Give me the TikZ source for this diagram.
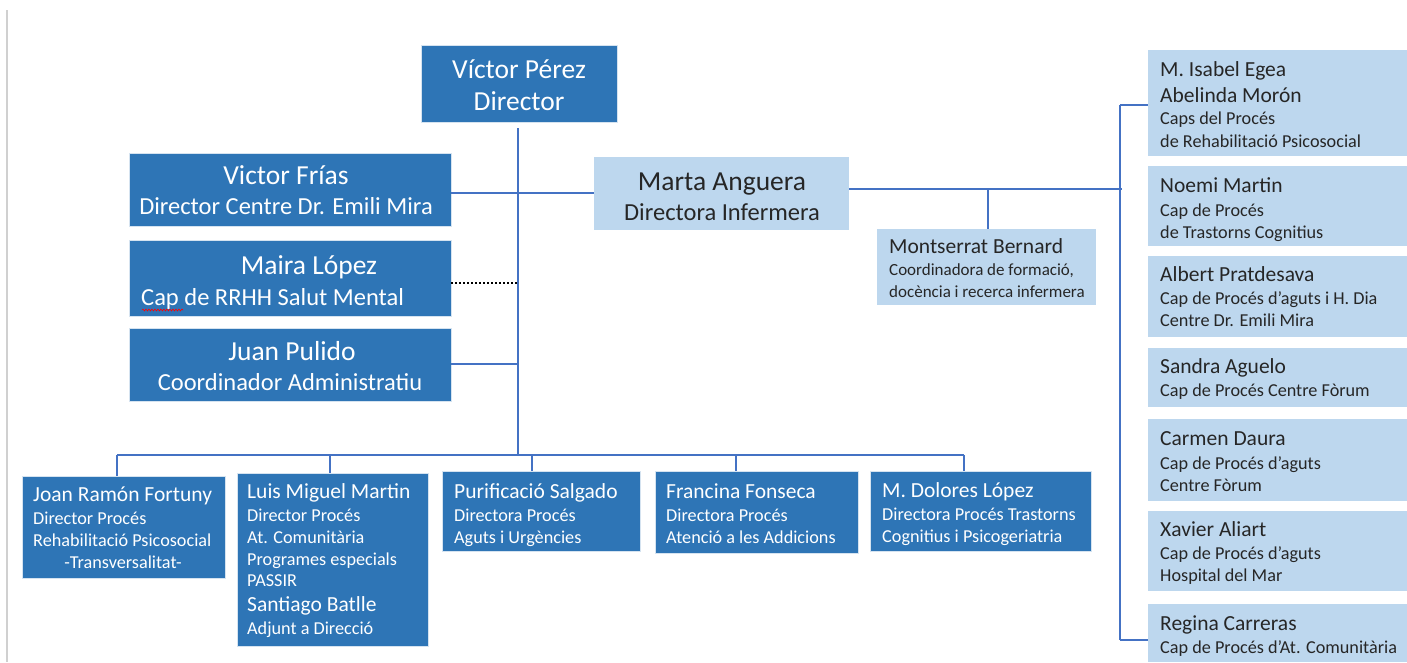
\documentclass[tikz,border=0pt]{standalone}
\usepackage{fontspec}
\setmainfont{Carlito}
\usetikzlibrary{decorations.pathmorphing}
\definecolor{dblue}{HTML}{2E75B6}
\definecolor{lblue}{HTML}{BDD7EE}
\definecolor{lineblue}{HTML}{4472C4}
\definecolor{bordgray}{HTML}{D0D0D0}
\newcommand\mybox[6]{\node[#6, minimum width={#4-#2}, minimum height={#5-#3}] (#1) at (#2,#3) {};}
\newcommand\txtl[5]{\node[#1, anchor=#2] (#3) at (#4) {#5};}
\tikzset{
  boxbase/.style={inner sep=0pt, outer sep=0pt, anchor=north west},
  dbox/.style={boxbase, fill=dblue, draw=white!80!dblue, line width=0.7pt},
  lbox/.style={boxbase, fill=lblue},
  conn/.style={draw=lineblue, line width=1.1pt},
  dotconn/.style={draw=black, line width=2pt, dash pattern=on 2pt off 2pt},
  wt/.style={text=white, inner sep=0pt},
  bt/.style={text=black!85, inner sep=0pt},
  fbig/.style={font=\fontsize{27.5}{30}\selectfont},
  fmid/.style={font=\fontsize{24.5}{27}\selectfont},
  fname/.style={font=\fontsize{21.5}{24}\selectfont},
  fsmall/.style={font=\fontsize{18.2}{20}\selectfont},
  ftiny/.style={font=\fontsize{17}{19}\selectfont},
}
\begin{document}
\begin{tikzpicture}[x=1pt,y=-1pt]
\useasboundingbox[fill=white] (0,0) rectangle (1407,662);
\draw[bordgray, line width=2pt] (7,10) coordinate (gl1) -- (7,662) coordinate (gl2);
% ---- boxes ----
\mybox{vp}{421}{45}{617}{122}{dbox}
\mybox{vf}{129}{153}{451}{226}{dbox}
\mybox{ml}{129}{240}{451}{316}{dbox}
\mybox{jp}{129}{328}{451}{401}{dbox}
\mybox{ma}{594}{157}{849}{230}{lbox}
\mybox{mb}{877}{229}{1096}{305}{lbox}
\mybox{r1}{1148}{50}{1407}{156}{lbox}
\mybox{r2}{1148}{166}{1407}{246}{lbox}
\mybox{r3}{1148}{256}{1407}{337}{lbox}
\mybox{r4}{1148}{348}{1407}{407}{lbox}
\mybox{r5}{1148}{419}{1407}{501}{lbox}
\mybox{r6}{1148}{511}{1407}{591}{lbox}
\mybox{r7}{1148}{604}{1407}{662}{lbox}
\mybox{b1}{22}{476}{225}{578}{dbox}
\mybox{b2}{237}{473}{428}{646}{dbox}
\mybox{b3}{442}{471}{640}{551}{dbox}
\mybox{b4}{655}{471}{858}{553}{dbox}
\mybox{b5}{870}{471}{1091}{551}{dbox}
% ---- connectors ----
\coordinate (vtop) at (518,128);
\coordinate (vbot) at (518,455);
\draw[conn] (vtop) -- (vbot);
\draw[conn] (vf.east |- 0,193) -- (ma.west |- 0,193);
\draw[dotconn] (ml.east |- 0,283) -- (518,283) coordinate (dotend);
\draw[conn] (jp.east |- 0,364) -- (518,364) coordinate (jpend);
\coordinate (hl) at (117,455);
\coordinate (hr) at (964,455);
\draw[conn] (hl) -- (hr);
\draw[conn] (hl) -- (b1.north -| hl);
\draw[conn] (330,455) coordinate (d2) -- (b2.north -| d2);
\draw[conn] (532,455) coordinate (d3) -- (b3.north -| d3);
\draw[conn] (736,455) coordinate (d4) -- (b4.north -| d4);
\draw[conn] (hr) -- (b5.north -| hr);
\coordinate (rtop) at (1120,105);
\coordinate (rbot) at (1120,640);
\draw[conn] (ma.east |- 0,189) -- (1122,189) coordinate (rj);
\draw[conn] (rtop) -- (rbot);
\draw[conn] (rtop) -- (r1.west |- rtop);
\draw[conn] (rbot) -- (r7.west |- rbot);
\draw[conn] (988,189) coordinate (mj) -- (mb.north -| mj);
% ---- texts ----
\txtl{wt,fbig}{base}{t1}{519,78}{Víctor Pérez}
\txtl{wt,fbig}{base}{t2}{519,110}{Director}
\txtl{wt,fbig}{base}{t3}{286,184}{Victor Frías}
\txtl{wt,fmid}{base}{t4}{286,214}{Director Centre Dr. Emili Mira}
\txtl{wt,fbig}{base}{t5}{309,274}{Maira López}
\txtl{wt,fmid}{base west}{t6}{141,305}{Cap de RRHH Salut Mental}
\draw[red, line width=0.6pt, decorate, decoration={snake, amplitude=0.9pt, segment length=3pt}] (142,310) coordinate (w1) -- (183,310) coordinate (w2);
\txtl{wt,fbig}{base}{t7}{292,360}{Juan Pulido}
\txtl{wt,fmid}{base}{t8}{290,390}{Coordinador Administratiu}
\txtl{bt,fbig}{base}{t9}{722,190}{Marta Anguera}
\txtl{bt,fmid}{base}{t10}{722,220}{Directora Infermera}
\txtl{bt,fname}{base west}{t11}{889,253}{Montserrat Bernard}
\txtl{bt,ftiny}{base west}{t12}{889,275}{Coordinadora de formació,}
\txtl{bt,ftiny}{base west}{t13}{889,297}{docència i recerca infermera}
% right column
\txtl{bt,fname}{base west}{r1a}{1160,76}{M. Isabel Egea}
\txtl{bt,fname}{base west}{r1b}{1160,102}{Abelinda Morón}
\txtl{bt,fsmall}{base west}{r1c}{1160,124}{Caps del Procés}
\txtl{bt,fsmall}{base west}{r1d}{1160,147}{de Rehabilitació Psicosocial}
\txtl{bt,fname}{base west}{r2a}{1160,192}{Noemi Martin}
\txtl{bt,fsmall}{base west}{r2b}{1160,216}{Cap de Procés}
\txtl{bt,fsmall}{base west}{r2c}{1160,238}{de Trastorns Cognitius}
\txtl{bt,fname}{base west}{r3a}{1160,281}{Albert Pratdesava}
\txtl{bt,fsmall}{base west}{r3b}{1160,304}{Cap de Procés d’aguts i H. Dia}
\txtl{bt,fsmall}{base west}{r3c}{1160,326}{Centre Dr. Emili Mira}
\txtl{bt,fname}{base west}{r4a}{1160,373}{Sandra Aguelo}
\txtl{bt,fsmall}{base west}{r4b}{1160,396}{Cap de Procés Centre Fòrum}
\txtl{bt,fname}{base west}{r5a}{1160,445}{Carmen Daura}
\txtl{bt,fsmall}{base west}{r5b}{1160,469}{Cap de Procés d’aguts}
\txtl{bt,fsmall}{base west}{r5c}{1160,491}{Centre Fòrum}
\txtl{bt,fname}{base west}{r6a}{1160,536}{Xavier Aliart}
\txtl{bt,fsmall}{base west}{r6b}{1160,559}{Cap de Procés d’aguts}
\txtl{bt,fsmall}{base west}{r6c}{1160,581}{Hospital del Mar}
\txtl{bt,fname}{base west}{r7a}{1160,630}{Regina Carreras}
\txtl{bt,fsmall}{base west}{r7b}{1160,653}{Cap de Procés d’At. Comunitària}
% bottom row
\txtl{wt,fname}{base west}{b1a}{33,501}{Joan Ramón Fortuny}
\txtl{wt,fsmall}{base west}{b1b}{33,524}{Director Procés}
\txtl{wt,fsmall}{base west}{b1c}{33,546}{Rehabilitació Psicosocial}
\txtl{wt,fsmall}{base}{b1d}{123,568}{-Transversalitat-}
\txtl{wt,fname}{base west}{b2a}{247,498}{Luis Miguel Martin}
\txtl{wt,fsmall}{base west}{b2b}{247,521}{Director Procés}
\txtl{wt,fsmall}{base west}{b2c}{247,543}{At. Comunitària}
\txtl{wt,fsmall}{base west}{b2d}{247,565}{Programes especials}
\txtl{wt,fsmall}{base west}{b2e}{247,586}{PASSIR}
\txtl{wt,fname}{base west}{b2f}{247,611}{Santiago Batlle}
\txtl{wt,fsmall}{base west}{b2g}{247,634}{Adjunt a Direcció}
\txtl{wt,fname}{base west}{b3a}{454,498}{Purificació Salgado}
\txtl{wt,fsmall}{base west}{b3b}{454,521}{Directora Procés}
\txtl{wt,fsmall}{base west}{b3c}{454,543}{Aguts i Urgències}
\txtl{wt,fname}{base west}{b4a}{666,498}{Francina Fonseca}
\txtl{wt,fsmall}{base west}{b4b}{666,521}{Directora Procés}
\txtl{wt,fsmall}{base west}{b4c}{666,543}{Atenció a les Addicions}
\txtl{wt,fname}{base west}{b5a}{882,497}{M. Dolores López}
\txtl{wt,fsmall}{base west}{b5b}{882,520}{Directora Procés Trastorns}
\txtl{wt,fsmall}{base west}{b5c}{882,542}{Cognitius i Psicogeriatria}
\end{tikzpicture}
\end{document}
